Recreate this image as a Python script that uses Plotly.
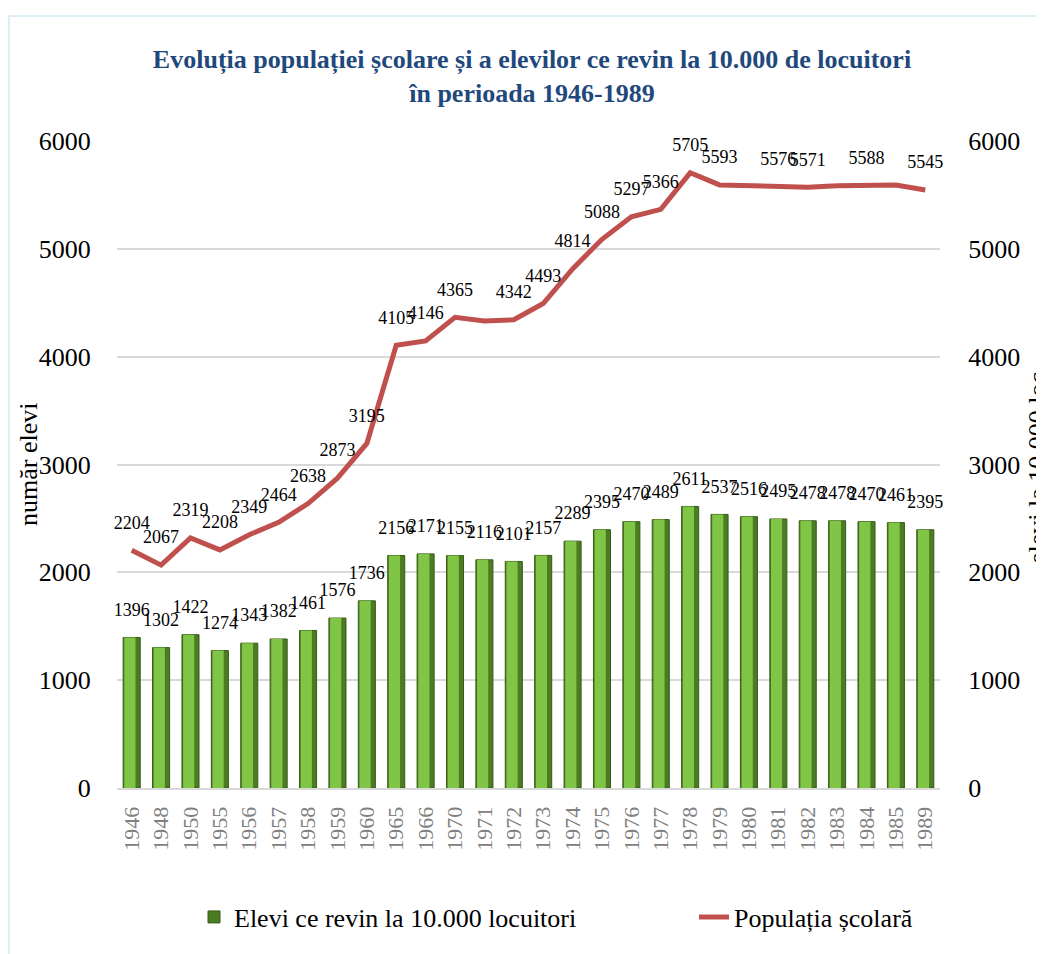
import plotly.graph_objects as go

years = ["1946", "1948", "1950", "1955", "1956", "1957", "1958", "1959", "1960",
         "1965", "1966", "1970", "1971", "1972", "1973", "1974", "1975", "1976",
         "1977", "1978", "1979", "1980", "1981", "1982", "1983", "1984", "1985", "1989"]

elevi_10000 = [1396, 1302, 1422, 1274, 1343, 1382, 1461, 1576, 1736,
               2156, 2171, 2155, 2116, 2101, 2157, 2289, 2395, 2470,
               2489, 2611, 2537, 2516, 2495, 2478, 2478, 2470, 2461, 2395]

populatia = [2204, 2067, 2319, 2208, 2349, 2464, 2638, 2873, 3195,
             4105, 4146, 4365, 4330, 4342, 4493, 4814, 5088, 5297,
             5366, 5705, 5593, 5585, 5576, 5571, 5585, 5588, 5592, 5545]

# labels shown for the line (some were hidden in the original)
pop_label_shown = [True, True, True, True, True, True, True, True, True,
                   True, True, True, False, True, True, True, True, True,
                   True, True, True, False, True, True, False, True, False, True]

serif = "Liberation Serif"

pop_text = [str(v) if s else "" for v, s in zip(populatia, pop_label_shown)]

fig = go.Figure()

# bar body (dark edges)
fig.add_trace(go.Bar(
    x=years, y=elevi_10000,
    name="Elevi ce revin la 10.000 locuitori",
    marker=dict(color="#4b7b22", line=dict(color="#375c17", width=1)),
    width=0.58,
    yaxis="y",
    legend="legend",
    hoverinfo="skip",
))
# bar highlight (lighter face)
fig.add_trace(go.Bar(
    x=years, y=elevi_10000,
    name="Elevi ce revin la 10.000 locuitori",
    marker=dict(color="#80c545", line=dict(width=0)),
    width=0.38,
    offset=-0.25,
    yaxis="y",
    showlegend=False,
))
# bar value labels
fig.add_trace(go.Scatter(
    x=years, y=elevi_10000,
    mode="markers+text",
    marker=dict(size=26, color="rgba(0,0,0,0)"),
    text=[str(v) for v in elevi_10000],
    textposition="top center",
    textfont=dict(family=serif, size=18, color="#000000"),
    cliponaxis=False,
    showlegend=False,
    yaxis="y",
    hoverinfo="skip",
))

fig.add_trace(go.Scatter(
    x=years, y=populatia,
    name="Populația școlară",
    mode="lines",
    line=dict(color="#c0504d", width=5),
    yaxis="y2",
    legend="legend2",
))
fig.add_trace(go.Scatter(
    x=years, y=populatia,
    mode="markers+text",
    marker=dict(size=26, color="rgba(0,0,0,0)"),
    text=pop_text,
    textposition="top center",
    textfont=dict(family=serif, size=18, color="#000000"),
    cliponaxis=False,
    showlegend=False,
    yaxis="y2",
    hoverinfo="skip",
))

# page body has an 8px margin: figure coordinates are screen minus 8
OFF = 8
W, H = 1044 - OFF, 954 - OFF
L = 117 - OFF
T = 141 - OFF
R = W - (940 - OFF)
B = H - (788 - OFF)
pw = W - L - R
ph = H - T - B

def px(xs):
    return (xs - OFF - L) / pw

def py(ys):
    return (H - B - (ys - OFF)) / ph

legend_common = dict(
    orientation="h",
    yanchor="middle",
    font=dict(family=serif, size=26, color="#000000"),
    bgcolor="rgba(0,0,0,0)",
)

fig.update_layout(
    width=W, height=H,
    margin=dict(l=L, r=R, t=T, b=B),
    paper_bgcolor="white",
    plot_bgcolor="white",
    barmode="overlay",
    font=dict(family=serif, color="#000000"),
    title=dict(
        text="<b>Evoluția populației școlare și a elevilor ce revin la 10.000 de locuitori<br>în perioada 1946-1989</b>",
        x=px(532), xref="paper", xanchor="center",
        y=1 - (68 - OFF) / H, yanchor="middle",
        font=dict(family=serif, size=26, color="#1f497d"),
    ),
    showlegend=True,
    legend=dict(x=px(194), xanchor="left", y=py(917), **legend_common),
    legend2=dict(x=px(694), xanchor="left", y=py(917), **legend_common),
    xaxis=dict(
        type="category",
        range=[-0.5, len(years) - 0.5],
        tickangle=-90,
        tickfont=dict(family=serif, size=22, color="#808080"),
        showline=True, linecolor="#d9d9d9", linewidth=2,
        showgrid=False,
        ticks="outside", ticklen=8, tickcolor="rgba(0,0,0,0)",
        automargin=False,
    ),
    yaxis=dict(
        range=[0, 6000],
        tickvals=[0, 1000, 2000, 3000, 4000, 5000, 6000],
        tickfont=dict(family=serif, size=26, color="#000000"),
        showgrid=True, gridcolor="#d9d9d9", gridwidth=1.5,
        zeroline=False,
        ticks="outside", ticklen=20, tickcolor="rgba(0,0,0,0)",
        automargin=False,
    ),
    yaxis2=dict(
        range=[0, 6000],
        overlaying="y", side="right",
        tickvals=[0, 1000, 2000, 3000, 4000, 5000, 6000],
        tickfont=dict(family=serif, size=26, color="#000000"),
        showgrid=False, zeroline=False,
        ticks="outside", ticklen=22, tickcolor="rgba(0,0,0,0)",
        automargin=False,
    ),
    shapes=[dict(
        type="rect", xref="paper", yref="paper",
        x0=px(9), x1=px(1041), y0=py(975), y1=py(16),
        line=dict(color="#daeef3", width=2),
        fillcolor="rgba(0,0,0,0)",
        layer="below",
    )],
    annotations=[
        dict(
            text="număr elevi",
            xref="paper", yref="paper",
            x=px(28), y=py(465),
            xanchor="center", yanchor="middle",
            textangle=-90, showarrow=False,
            font=dict(family=serif, size=26, color="#000000"),
        ),
        dict(
            text="elevi la 10.000 loc.",
            xref="paper", yref="paper",
            x=px(1037), y=py(465),
            xanchor="center", yanchor="middle",
            textangle=-90, showarrow=False,
            font=dict(family=serif, size=26, color="#000000"),
        ),
    ],
)

fig.write_html("out.html")
